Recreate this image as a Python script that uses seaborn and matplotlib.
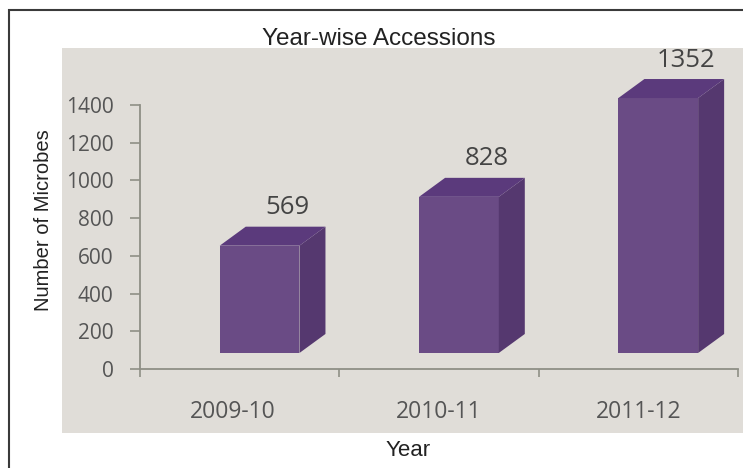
"""Year-wise accessions: pseudo-3D bar chart on a grey panel."""
import matplotlib
matplotlib.use("Agg")
import matplotlib.pyplot as plt
from matplotlib.patches import Polygon, Rectangle
from matplotlib.transforms import ScaledTranslation
import pandas as pd
import seaborn as sns

years = ["2009-10", "2010-11", "2011-12"]
accessions = [569, 828, 1352]
y_ticks = [0, 200, 400, 600, 800, 1000, 1200, 1400]

W, H = 743, 468
FRONT = "#6a4b85"
SIDE = "#55386f"
TOP = "#5b3a7c"
PANEL = "#e0ddd8"
AXIS = "#8f8f86"
TICK_TEXT = "#555555"

sns.set_theme(style="white")
plt.rcParams["font.family"] = ["Liberation Sans", "DejaVu Sans"]

fig = plt.figure(figsize=(W / 100, H / 100), dpi=100, facecolor="white")


def px_box(x0, y0, x1, y1):
    # pixel box (top-left origin) to figure fractions
    return [x0 / W, 1 - y1 / H, (x1 - x0) / W, (y1 - y0) / H]


# outer frame and panel, title sits under the panel edge
bx, by, bw, bh = px_box(62, 48, 743, 433)
fig.add_artist(Rectangle((9 / W, -0.1), 1.1, 1.1 - 10 / H, transform=fig.transFigure,
                         fill=False, edgecolor="#3a3a3a", linewidth=1.5, zorder=0))
fig.text(379 / W, 1 - 39 / H, "Year-wise Accessions", ha="center", va="center",
         fontsize=17.5, color="#222222", zorder=1)
fig.add_artist(Rectangle((bx, by), bw, bh, transform=fig.transFigure,
                         facecolor=PANEL, edgecolor="none", zorder=2))

ax = fig.add_axes(px_box(140, 105, 738, 369), zorder=3)
ax.patch.set_alpha(0)

df = pd.DataFrame({"year": years, "accessions": accessions})
sns.barplot(data=df, x="year", y="accessions", ax=ax, color=FRONT, saturation=1,
            width=0.4, bottom=85, edgecolor="none", linewidth=0)

ax.set_xlim(-0.5, 2.5)
ax.set_ylim(0, 1400)
ax.set_yticks(y_ticks)
ax.set_xticks([0, 1, 2], years)
ax.set_xticks([-0.5, 0.5, 1.5, 2.5], minor=True)
ax.set_xlabel("")
ax.set_ylabel("")

sns.despine(ax=ax)
for side in ("left", "bottom"):
    ax.spines[side].set_color(AXIS)
    ax.spines[side].set_linewidth(1.3)
ax.tick_params(axis="y", which="major", left=True, length=7, width=1.2, color=AXIS,
               labelsize=15, labelcolor=TICK_TEXT, pad=12)
ax.tick_params(axis="x", which="major", bottom=False, labelsize=16.5,
               labelcolor=TICK_TEXT, pad=16)
ax.tick_params(axis="x", which="minor", bottom=True, length=6, width=1.2, color=AXIS)
for lab in ax.get_xticklabels() + ax.get_yticklabels():
    lab.set_family(["Open Sans", "DejaVu Sans"])
# first year label sits a little left of its slot in the original
first = ax.get_xticklabels()[0]
first.set_transform(first.get_transform() + ScaledTranslation(-7 / 100, 0, fig.dpi_scale_trans))

# extrude the bars: depth is a fixed pixel offset from each front face
dx, dy = 26 / 100, 19 / 100  # inches
depth = ax.transData + ScaledTranslation(dx, dy, fig.dpi_scale_trans)
for bar, value in zip(list(ax.patches), accessions):
    bar.set_x(bar.get_x() + 0.1)
    bar.set_clip_on(False)
    bar.set_zorder(3)
    x0, x1 = bar.get_x(), bar.get_x() + bar.get_width()
    y0, y1 = bar.get_y(), bar.get_y() + bar.get_height()

    def to_fig(x, y, back):
        pt = (depth if back else ax.transData).transform((x, y))
        return fig.transFigure.inverted().transform(pt)

    side = [to_fig(x1, y0, 0), to_fig(x1, y1, 0), to_fig(x1, y1, 1), to_fig(x1, y0, 1)]
    top = [to_fig(x0, y1, 0), to_fig(x1, y1, 0), to_fig(x1, y1, 1), to_fig(x0, y1, 1)]
    for pts, col in ((side, SIDE), (top, TOP)):
        ax.add_patch(Polygon(pts, closed=True, transform=fig.transFigure, facecolor=col,
                             edgecolor="none", clip_on=False, zorder=3))
    ax.annotate(str(value), xy=(x0, y1), xytext=(68 * 0.72, 38 * 0.72),
                textcoords="offset points", ha="center", va="center", fontsize=18.5,
                color="#444444", family=["Open Sans", "DejaVu Sans"], annotation_clip=False)

fig.text(44 / W, 1 - 220 / H, "Number of Microbes", rotation=90, ha="center", va="center",
         fontsize=14.5, color="#222222", zorder=4).set_x(44 / W)
fig.text(408 / W, 1 - 450 / H, "Year", ha="center", va="center",
         fontsize=16, color="#222222", zorder=4)

fig.savefig("out.png", dpi=100, facecolor="white")
